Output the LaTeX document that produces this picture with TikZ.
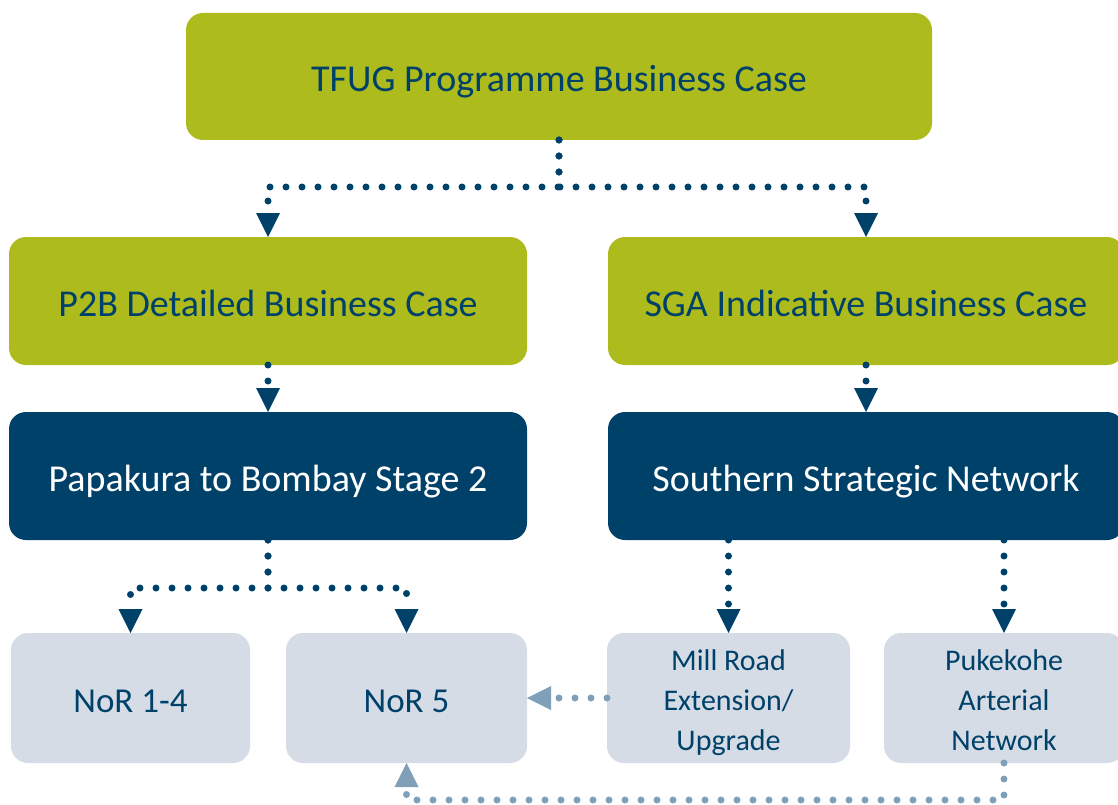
\documentclass[tikz,border=0pt]{standalone}
\usepackage{fontspec}
\setmainfont{Carlito}
\usetikzlibrary{arrows.meta,positioning}
\definecolor{caseGreen}{HTML}{AEBB1C}
\definecolor{projBlue}{HTML}{00416A}
\definecolor{itemGrey}{HTML}{D6DCE5}
\definecolor{linkGrey}{HTML}{7FA0B8}
% fixed line extents for the three-line items
\newcommand{\linetop}{\rule{0pt}{34pt}}
\newcommand{\linebottom}{\rule[-10pt]{0pt}{10pt}}
\tikzset{
    box/.style = {
        rounded corners=17pt,
        inner sep=0pt,
        outer sep=0pt,
        align=center,
        },
    case box/.style = {
        box,
        fill = caseGreen,
        text = projBlue,
        minimum width=518pt,
        minimum height=128pt,
        text height=31pt,
        text depth=0pt,
        font=\fontsize{38}{45}\selectfont,
        },
    project box/.style = {
        box,
        fill = projBlue,
        text = white,
        minimum width=518pt,
        minimum height=128pt,
        text height=31pt,
        text depth=0pt,
        font=\fontsize{38}{45}\selectfont,
        },
    item box/.style = {
        box,
        fill = itemGrey,
        text = projBlue,
        minimum width=241pt,
        minimum height=130pt,
        text height=29pt,
        text depth=0pt,
        font=\fontsize{35}{40}\selectfont,
        },
    small item/.style = {
        text height=,
        text depth=,
        font=\fontsize{30}{40}\selectfont,
        },
    flow/.style = {
        draw = projBlue,
        line width=7pt,
        line cap=round,
        dash pattern=on 0pt off 16pt,
        -{Triangle[width=24pt,length=24pt,line width=0pt]},
        },
    link/.style = {
        flow,
        draw = linkGrey,
        },
}
\begin{document}
\begin{tikzpicture}[x=1pt, y=-1pt, node distance = 47pt]
    \useasboundingbox (0,0) rectangle (1118,805);

    % business cases
    \node [case box, minimum width=746pt, minimum height=127pt] (tfug) at (559,76.5) {TFUG Programme Business Case};
    \node [case box] (p2b) at (268,301) {P2B Detailed Business Case};
    \node [case box, minimum width=516pt] (sga) at (866,301) {SGA Indicative Business Case};

    % projects
    \node [project box, below=of p2b] (ppk) {Papakura to Bombay Stage 2};
    \node [project box, minimum width=516pt, below=of sga] (ssn) {Southern Strategic Network};

    % items
    \node [item box, minimum width=239pt] (nor14) at (130.5,698) {NoR 1-4};
    \node [item box, right=36pt of nor14] (nor5) {NoR 5};
    \node [item box, small item, minimum width=243pt] (mill) at (728.5,698) {\linetop Mill Road\\Extension/\\Upgrade\linebottom};
    \node [item box, small item, minimum width=240pt, right=34pt of mill] (puk) {\linetop Pukekohe\\Arterial\\Network\linebottom};

    % case arrows
    \draw [flow] (tfug.south) -- ++(0,47) -| (p2b.north);
    \draw [flow] (tfug.south) -- ++(0,47) -| (sga.north);
    \draw [flow] (p2b) -- (ppk);
    \draw [flow] (sga) -- (ssn);

    % project arrows
    \draw [flow] (ppk.south) -- ++(0,48) -| (nor14.north);
    \draw [flow] (ppk.south) -- ++(0,48) -| (nor5.north);
    \draw [flow] (mill.north |- ssn.south) -- (mill.north);
    \draw [flow] (puk.north |- ssn.south) -- (puk.north);

    % links to NoR 5
    \draw [link] (mill.west) -- (nor5.east);
    \draw [link] (puk.south) -- ++(0,37) -| (nor5.south);
\end{tikzpicture}
\end{document}
